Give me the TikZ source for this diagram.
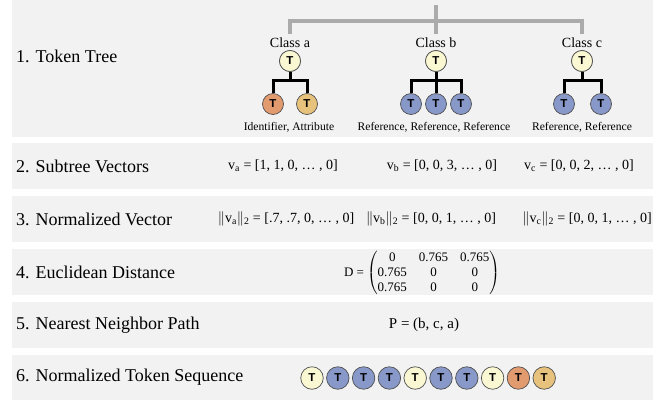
\documentclass[tikz,border=0pt]{standalone}
\usepackage{amsmath}
\usepackage{fontspec}
\setmainfont{Liberation Serif}
\newfontfamily\tokfont{Liberation Sans}
\definecolor{panel}{HTML}{F2F2F2}
\definecolor{tokY}{HTML}{FAF7D3}
\definecolor{tokB}{HTML}{8798C9}
\definecolor{tokO}{HTML}{E29A6F}
\definecolor{tokG}{HTML}{E7C27C}
\definecolor{treegray}{HTML}{ABABAB}
\definecolor{tokborder}{HTML}{505050}
\begin{document}
\begin{tikzpicture}[x=1pt,y=-1pt,
  lbl/.style={anchor=west,inner sep=0pt,font=\fontsize{18}{21}\selectfont},
  cls/.style={inner sep=0pt,font=\fontsize{14}{16}\selectfont},
  sub/.style={inner sep=0pt,font=\fontsize{11.6}{13}\selectfont},
  vec/.style={inner sep=0pt,font=\fontsize{14}{16}\selectfont},
  tok/.style={circle,draw=tokborder,line width=0.7pt,minimum size=21pt,inner sep=0pt,font=\tokfont\bfseries\fontsize{11.5}{13}\selectfont},
  seqtok/.style={tok,minimum size=22.5pt},
  yel/.style={fill=tokY},
  blu/.style={fill=tokB},
  ora/.style={fill=tokO},
  tan/.style={fill=tokG},
  gline/.style={draw=treegray,line width=3.2pt},
  bline/.style={draw=black,line width=3pt}]
\useasboundingbox (0,0) rectangle (670,400);
% panels
\fill[panel] (12,0) rectangle (653,137);
\fill[panel] (12,143) rectangle (653,189);
\fill[panel] (12,196) rectangle (653,242);
\fill[panel] (12,249) rectangle (653,295);
\fill[panel] (12,302) rectangle (653,348);
\fill[panel] (12,355) rectangle (653,400);
% row labels
\node[lbl] (l1) at (16,56) {1. Token Tree};
\node[lbl] (l2) at (16,166) {2. Subtree Vectors};
\node[lbl] (l3) at (16,219) {3. Normalized Vector};
\node[lbl] (l4) at (16,272) {4. Euclidean Distance};
\node[lbl] (l5) at (16,325) {5. Nearest Neighbor Path};
\node[lbl] (l6) at (16,377) {6. Normalized Token Sequence};
% gray top bracket
\coordinate (gtop) at (436,5);
\coordinate (gbar) at (436,21);
\coordinate (ga) at (290,34);
\coordinate (gb) at (436,34);
\coordinate (gc) at (582,34);
\draw[gline] (ga) |- (gbar) -| (gc);
\draw[gline] (gtop) -- (gb);
% class labels
\node[cls] (ca) at (290,43) {Class a};
\node[cls] (cb) at (436,43) {Class b};
\node[cls] (cc) at (582,43) {Class c};
% roots
\node[tok,yel] (ra) at (290,61) {T};
\node[tok,yel] (rb) at (436,61) {T};
\node[tok,yel] (rc) at (582,61) {T};
% children
\node[tok,ora] (a1) at (273,104) {T};
\node[tok,tan] (a2) at (307,104) {T};
\node[tok,blu] (b1) at (411,104) {T};
\node[tok,blu] (b2) at (436,104) {T};
\node[tok,blu] (b3) at (461,104) {T};
\node[tok,blu] (c1) at (564,104) {T};
\node[tok,blu] (c2) at (601,104) {T};
% black brackets
\coordinate (abar) at (290,80);
\coordinate (bbar) at (436,80);
\coordinate (cbar) at (582,80);
\draw[bline] (ra) -- (abar);
\draw[bline] (a1.north) |- (abar) -| (a2.north);
\draw[bline] (rb) -- (bbar);
\draw[bline] (b1.north) |- (bbar) -| (b3.north);
\draw[bline] (bbar) -- (b2.north);
\draw[bline] (rc) -- (cbar);
\draw[bline] (c1.north) |- (cbar) -| (c2.north);
% redraw roots above lines
\node[tok,yel] at (ra) {T};
\node[tok,yel] at (rb) {T};
\node[tok,yel] at (rc) {T};
% bottom labels
\node[sub] (sa) at (289,127) {Identifier, Attribute};
\node[sub] (sb) at (434,127) {Reference, Reference, Reference};
\node[sub] (sc) at (582,127) {Reference, Reference};
% row 2
\node[vec] (va) at (283,166) {v\textsubscript{a} = [1, 1, 0, \ldots{} , 0]};
\node[vec] (vb) at (442,166) {v\textsubscript{b} = [0, 0, 3, \ldots{} , 0]};
\node[vec] (vc) at (579,166) {v\textsubscript{c} = [0, 0, 2, \ldots{} , 0]};
% row 3
\node[vec] (na) at (286,219) {\(\|\)v\textsubscript{a}\(\|\)\textsubscript{2} = [.7, .7, 0, \ldots{} , 0]};
\node[vec] (nb) at (431,219) {\(\|\)v\textsubscript{b}\(\|\)\textsubscript{2} = [0, 0, 1, \ldots{} , 0]};
\node[vec] (nc) at (587,219) {\(\|\)v\textsubscript{c}\(\|\)\textsubscript{2} = [0, 0, 1, \ldots{} , 0]};
% row 4
\node[inner sep=0pt,font=\fontsize{13}{15}\selectfont] (dm) at (422,273)
  {D = $\left(\setlength{\tabcolsep}{6pt}\begin{tabular}{@{}ccc@{}}0 & 0.765 & 0.765\\ 0.765 & 0 & 0\\ 0.765 & 0 & 0\end{tabular}\right)$};
% row 5
\node[inner sep=0pt,font=\fontsize{15}{18}\selectfont] (pp) at (424,325) {P = (b, c, a)};
% row 6
\node[seqtok,yel] (s1) at (312,378) {T};
\node[seqtok,blu] (s2) at (337.8,378) {T};
\node[seqtok,blu] (s3) at (363.6,378) {T};
\node[seqtok,blu] (s4) at (389.4,378) {T};
\node[seqtok,yel] (s5) at (415.2,378) {T};
\node[seqtok,blu] (s6) at (441,378) {T};
\node[seqtok,blu] (s7) at (466.8,378) {T};
\node[seqtok,yel] (s8) at (492.6,378) {T};
\node[seqtok,ora] (s9) at (518.4,378) {T};
\node[seqtok,tan] (s10) at (544.2,378) {T};
\end{tikzpicture}
\end{document}
